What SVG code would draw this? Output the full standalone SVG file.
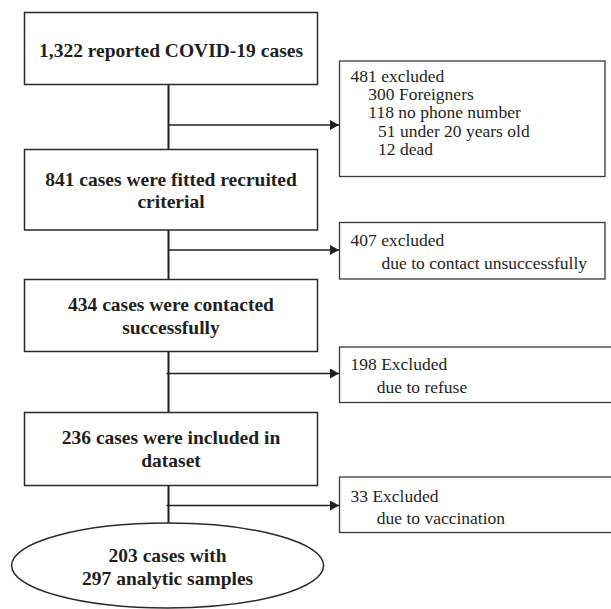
<svg xmlns="http://www.w3.org/2000/svg" width="611" height="609" viewBox="0 0 611 609">
<style>
.box{fill:#fff;stroke:#2a2a2a;stroke-width:1.5}
.ex{fill:#fff;stroke:#3a3a3a;stroke-width:1.3}
.main{font-family:'Liberation Serif',Tinos,'Times New Roman','DejaVu Serif',serif;font-weight:bold;font-size:19.5px;fill:#231f20;text-anchor:middle}
.sub{font-family:'Liberation Serif',Tinos,'Times New Roman','DejaVu Serif',serif;font-size:17.5px;fill:#231f20}
.ln{stroke:#231f20;stroke-width:2;fill:none}
.ar{stroke:#231f20;stroke-width:1.5;fill:none;marker-end:url(#ah)}
</style>
<defs>
<marker id="ah" markerUnits="userSpaceOnUse" markerWidth="10" markerHeight="10" refX="9" refY="5" orient="auto">
<path d="M0,0 L9,5 L0,10 Z" fill="#231f20"/>
</marker>
</defs>
<rect width="611" height="609" fill="#fff"/>
<g id="connectors">
<line class="ln" x1="168.5" y1="84.5" x2="168.5" y2="149.5"/>
<line class="ln" x1="168.5" y1="230" x2="168.5" y2="279.5"/>
<line class="ln" x1="168.5" y1="351.5" x2="168.5" y2="412.5"/>
<line class="ln" x1="168.5" y1="485.5" x2="168.5" y2="523"/>
<line class="ar" x1="168" y1="125" x2="339" y2="125"/>
<line class="ar" x1="168" y1="250" x2="339" y2="250"/>
<line class="ar" x1="166.5" y1="373.5" x2="339" y2="373.5"/>
<line class="ar" x1="166.5" y1="505.5" x2="339" y2="505.5"/>
</g>
<g id="n1">
<rect class="box" x="24.5" y="12.5" width="293" height="72"/>
<text class="main" x="171" y="57" font-family="Liberation Serif, serif">1,322 reported COVID-19 cases</text>
</g>
<g id="e1">
<rect class="ex" x="339.5" y="61" width="265.5" height="115.5"/>
<text class="sub" x="350.5" y="81.7">481 excluded</text>
<text class="sub" x="368.3" y="100">300 Foreigners</text>
<text class="sub" x="368.3" y="118.3">118 no phone number</text>
<text class="sub" x="378" y="136.6">51 under 20 years old</text>
<text class="sub" x="378" y="154.9">12 dead</text>
</g>
<g id="n2">
<rect class="box" x="24.5" y="149.5" width="293" height="80.5"/>
<text class="main" x="171" y="185.5">841 cases were fitted recruited</text>
<text class="main" x="171" y="208.3">criterial</text>
</g>
<g id="e2">
<rect class="ex" x="339.5" y="222.5" width="265.5" height="56.5"/>
<text class="sub" x="350.5" y="246">407 excluded</text>
<text class="sub" x="381.5" y="268.5">due to contact unsuccessfully</text>
</g>
<g id="n3">
<rect class="box" x="24.5" y="279.5" width="293" height="72"/>
<text class="main" x="171" y="310.5">434 cases were contacted</text>
<text class="main" x="171" y="333.5">successfully</text>
</g>
<g id="e3">
<rect class="ex" x="339.5" y="347" width="275" height="55.5"/>
<text class="sub" x="350.5" y="370">198 Excluded</text>
<text class="sub" x="376.8" y="392.5">due to refuse</text>
</g>
<g id="n4">
<rect class="box" x="24.5" y="412.5" width="293" height="73"/>
<text class="main" x="171" y="444">236 cases were included in</text>
<text class="main" x="171" y="467">dataset</text>
</g>
<g id="e4">
<rect class="ex" x="339.5" y="477" width="275" height="55.5"/>
<text class="sub" x="350.5" y="501.5">33 Excluded</text>
<text class="sub" x="376.8" y="524">due to vaccination</text>
</g>
<g id="n5">
<ellipse class="box" cx="167.6" cy="565.5" rx="156" ry="42.5"/>
<text class="main" x="167.6" y="562">203 cases with</text>
<text class="main" x="167.6" y="585">297 analytic samples</text>
</g>
</svg>
